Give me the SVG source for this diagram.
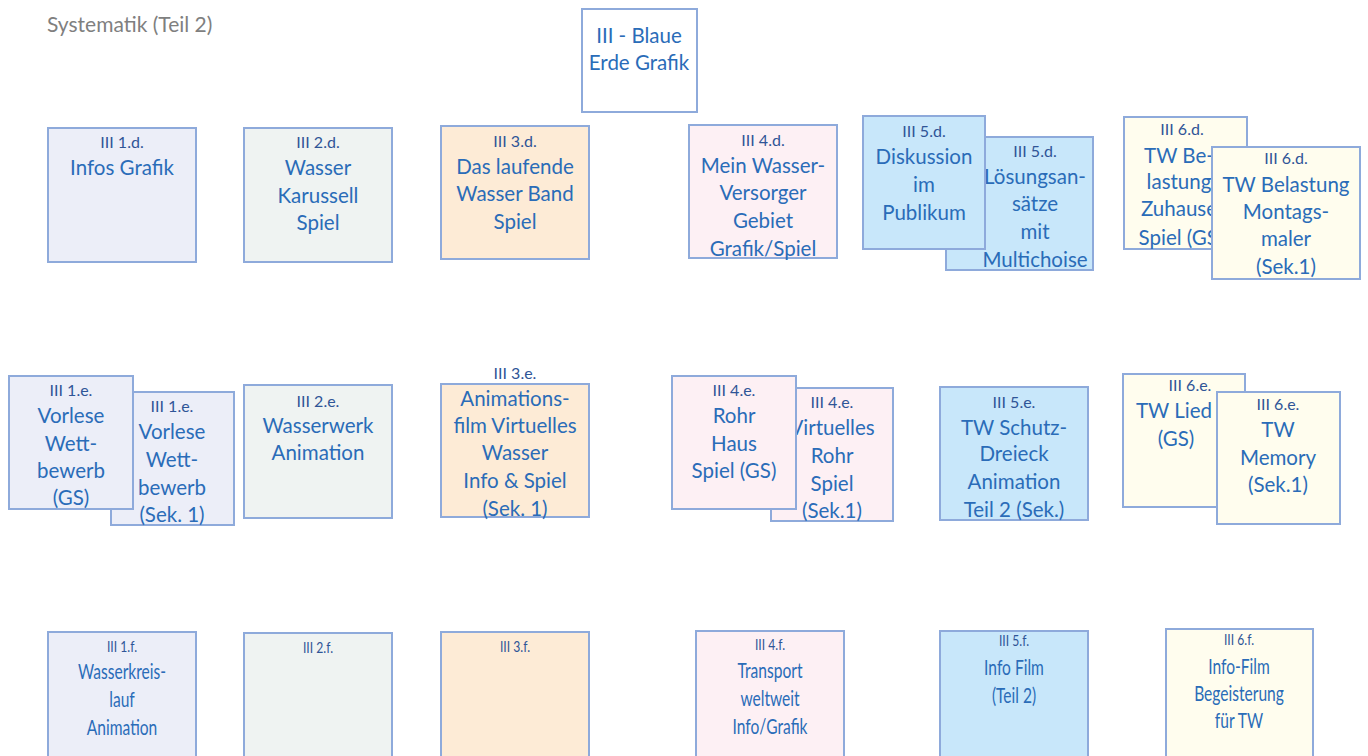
<svg xmlns="http://www.w3.org/2000/svg" width="1368" height="756" viewBox="0 0 1368 756">
<style>
.b{stroke:#8eaadb;stroke-width:2}
.c0{fill:#ffffff}.c1{fill:#eceef8}.c2{fill:#eff3f2}.c3{fill:#fdebd6}.c4{fill:#fdf0f4}.c5{fill:#c8e7fa}.c6{fill:#fffdee}
text{font-family:Lato,"Open Sans","Liberation Sans",sans-serif;text-anchor:middle;dominant-baseline:central}
.t{font-size:20.5px;fill:#2a6cb8}
.l{font-size:16px;fill:#2f5597}
.title{font-size:21px;fill:#7f7f7f;text-anchor:start}
</style>
<text class="title" x="47" y="23">Systematik (Teil 2)</text>

<g id="n-top"><rect class="b c0" x="582" y="9" width="115" height="103"/>
<text class="t" x="639" y="35">III - Blaue</text><text class="t" x="639" y="62">Erde Grafik</text></g>

<g id="n-1d"><rect class="b c1" x="48" y="128" width="148" height="134"/>
<text class="l" x="122" y="141">III 1.d.</text><text class="t" x="122" y="167">Infos Grafik</text></g>

<g id="n-2d"><rect class="b c2" x="244" y="128" width="148" height="134"/>
<text class="l" x="318" y="141">III 2.d.</text><text class="t" x="318" y="167">Wasser</text><text class="t" x="318" y="195">Karussell</text><text class="t" x="318" y="222">Spiel</text></g>

<g id="n-3d"><rect class="b c3" x="441" y="126" width="148" height="133"/>
<text class="l" x="515" y="140">III 3.d.</text><text class="t" x="515" y="166">Das laufende</text><text class="t" x="515" y="193">Wasser Band</text><text class="t" x="515" y="221">Spiel</text></g>

<g id="n-4d"><rect class="b c4" x="689" y="125" width="148" height="133"/>
<text class="l" x="763" y="139">III 4.d.</text><text class="t" x="763" y="165">Mein Wasser-</text><text class="t" x="763" y="192">Versorger</text><text class="t" x="763" y="220">Gebiet</text><text class="t" x="763" y="248">Grafik/Spiel</text></g>

<g id="n-5d-b"><rect class="b c5" x="946" y="137" width="147" height="133"/>
<text class="l" x="1035" y="150">III 5.d.</text><text class="t" x="1035" y="176">Lösungsan-</text><text class="t" x="1035" y="203">sätze</text><text class="t" x="1035" y="231">mit</text><text class="t" x="1035" y="259">Multichoise</text></g>

<g id="n-5d-a"><rect class="b c5" x="863" y="116" width="122" height="133"/>
<text class="l" x="924" y="130">III 5.d.</text><text class="t" x="924" y="156">Diskussion</text><text class="t" x="924" y="184">im</text><text class="t" x="924" y="212">Publikum</text></g>

<g id="n-6d-b"><rect class="b c6" x="1124" y="117" width="123" height="132"/>
<text class="l" x="1182" y="128">III 6.d.</text><text class="t" x="1179" y="155">TW Be-</text><text class="t" x="1179" y="181">lastung</text><text class="t" x="1179" y="208">Zuhause</text><text class="t" x="1181" y="237">Spiel (GS)</text></g>

<g id="n-6d-a"><rect class="b c6" x="1212" y="147" width="148" height="132"/>
<text class="l" x="1286" y="157">III 6.d.</text><text class="t" x="1286" y="184">TW Belastung</text><text class="t" x="1286" y="211">Montags-</text><text class="t" x="1286" y="238">maler</text><text class="t" x="1286" y="266">(Sek.1)</text></g>

<g id="n-1e-b"><rect class="b c1" x="111" y="392" width="123" height="133"/>
<text class="l" x="172" y="405">III 1.e.</text><text class="t" x="172" y="431">Vorlese</text><text class="t" x="172" y="459">Wett-</text><text class="t" x="172" y="487">bewerb</text><text class="t" x="172" y="514">(Sek. 1)</text></g>

<g id="n-1e-a"><rect class="b c1" x="9" y="376" width="124" height="133"/>
<text class="l" x="71" y="389">III 1.e.</text><text class="t" x="71" y="415">Vorlese</text><text class="t" x="71" y="443">Wett-</text><text class="t" x="71" y="470">bewerb</text><text class="t" x="71" y="497">(GS)</text></g>

<g id="n-2e"><rect class="b c2" x="244" y="385" width="148" height="133"/>
<text class="l" x="318" y="400">III 2.e.</text><text class="t" x="318" y="425">Wasserwerk</text><text class="t" x="318" y="452">Animation</text></g>

<g id="n-3e"><rect class="b c3" x="441" y="384" width="148" height="133"/>
<text class="l" x="515" y="372">III 3.e.</text><text class="t" x="515" y="398">Animations-</text><text class="t" x="515" y="425">film Virtuelles</text><text class="t" x="515" y="452">Wasser</text><text class="t" x="515" y="480">Info &amp; Spiel</text><text class="t" x="515" y="508">(Sek. 1)</text></g>

<g id="n-4e-b"><rect class="b c4" x="771" y="388" width="122" height="133"/>
<text class="l" x="832" y="401">III 4.e.</text><text class="t" x="832" y="427">Virtuelles</text><text class="t" x="832" y="455">Rohr</text><text class="t" x="832" y="483">Spiel</text><text class="t" x="832" y="510">(Sek.1)</text></g>

<g id="n-4e-a"><rect class="b c4" x="672" y="376" width="124" height="133"/>
<text class="l" x="734" y="389">III 4.e.</text><text class="t" x="734" y="415">Rohr</text><text class="t" x="734" y="443">Haus</text><text class="t" x="734" y="470">Spiel (GS)</text></g>

<g id="n-5e"><rect class="b c5" x="940" y="387" width="148" height="133"/>
<text class="l" x="1014" y="401">III 5.e.</text><text class="t" x="1014" y="427">TW Schutz-</text><text class="t" x="1014" y="453">Dreieck</text><text class="t" x="1014" y="481">Animation</text><text class="t" x="1014" y="509">Teil 2 (Sek.)</text></g>

<g id="n-6e-b"><rect class="b c6" x="1123" y="374" width="122" height="133"/>
<text class="l" x="1190" y="384">III 6.e.</text><text class="t" x="1174" y="410">TW Lied</text><text class="t" x="1176" y="438">(GS)</text></g>

<g id="n-6e-a"><rect class="b c6" x="1217" y="392" width="123" height="132"/>
<text class="l" x="1278" y="403">III 6.e.</text><text class="t" x="1278" y="429">TW</text><text class="t" x="1278" y="457">Memory</text><text class="t" x="1278" y="484">(Sek.1)</text></g>

<g id="n-1f"><rect class="b c1" x="48" y="632" width="148" height="130"/>
<g transform="translate(122,0) scale(0.76,1)"><text class="l" x="0" y="646">III 1.f.</text><text class="t" x="0" y="671">Wasserkreis-</text><text class="t" x="0" y="699">lauf</text><text class="t" x="0" y="727">Animation</text></g></g>

<g id="n-2f"><rect class="b c2" x="244" y="633" width="148" height="130"/>
<g transform="translate(318,0) scale(0.76,1)"><text class="l" x="0" y="647">III 2.f.</text></g></g>

<g id="n-3f"><rect class="b c3" x="441" y="632" width="148" height="130"/>
<g transform="translate(515,0) scale(0.76,1)"><text class="l" x="0" y="646">III 3.f.</text></g></g>

<g id="n-4f"><rect class="b c4" x="696" y="631" width="148" height="130"/>
<g transform="translate(770,0) scale(0.76,1)"><text class="l" x="0" y="644">III 4.f.</text><text class="t" x="0" y="670">Transport</text><text class="t" x="0" y="698">weltweit</text><text class="t" x="0" y="726">Info/Grafik</text></g></g>

<g id="n-5f"><rect class="b c5" x="940" y="631" width="148" height="130"/>
<g transform="translate(1014,0) scale(0.76,1)"><text class="l" x="0" y="640">III 5.f.</text><text class="t" x="0" y="667">Info Film</text><text class="t" x="0" y="695">(Teil 2)</text></g></g>

<g id="n-6f"><rect class="b c6" x="1166" y="629" width="147" height="132"/>
<g transform="translate(1239,0) scale(0.76,1)"><text class="l" x="0" y="639">III 6.f.</text><text class="t" x="0" y="666">Info-Film</text><text class="t" x="0" y="693">Begeisterung</text><text class="t" x="0" y="720">für TW</text></g></g>

<g id="connectors"></g>
</svg>
